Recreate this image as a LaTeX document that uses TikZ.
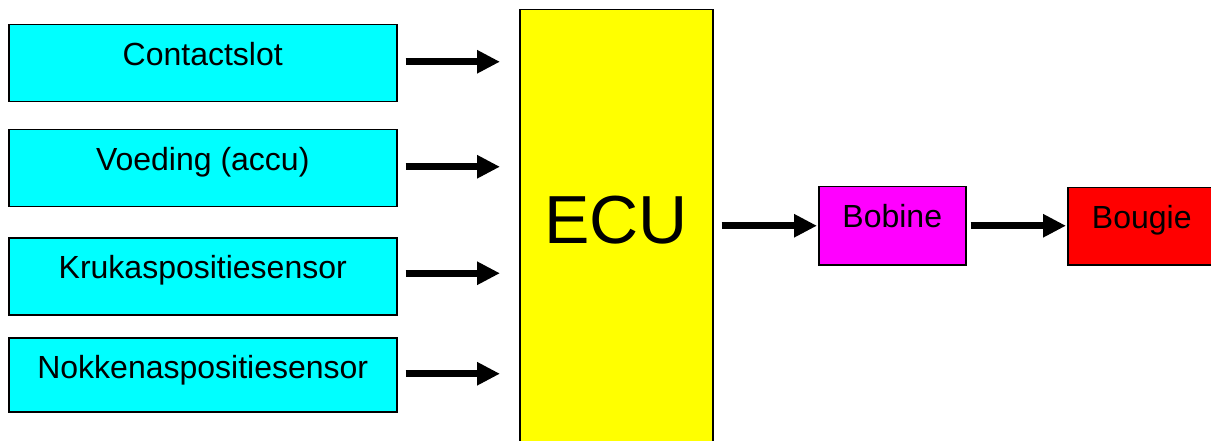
\documentclass[tikz,border=0pt]{standalone}
\usepackage{fontspec}
\setmainfont{Liberation Sans}
\usetikzlibrary{arrows.meta}

\definecolor{inputfill}{RGB}{0,255,255}
\definecolor{ecufill}{RGB}{255,255,0}
\definecolor{coilfill}{RGB}{255,0,255}
\definecolor{plugfill}{RGB}{255,0,0}

\tikzset{
  block/.style={draw=black, line width=1.5pt, inner sep=0pt, anchor=north west,
    font=\fontsize{32}{38}\selectfont, text height=41pt},
  inbox/.style={block, fill=inputfill, minimum width=388pt},
  flow/.style={line width=7pt, -{Triangle[length=23pt,width=22pt]}},
}

\begin{document}
\begin{tikzpicture}[x=1pt, y=-1pt]
  \clip (0,0) rectangle (1211,441);
  \fill[white] (0,0) rectangle (1211,441);

  % input sensors and switches
  \node[inbox, text depth=36pt] (c1) at (8,24)  {Contactslot};
  \node[inbox, text depth=36pt] (c2) at (8,129) {Voeding (accu)};
  \node[inbox, text depth=36pt] (c3) at (8,237) {Krukaspositiesensor};
  \node[inbox, text depth=33pt] (c4) at (8,337) {Nokkenaspositiesensor};

  % control unit, running off the bottom edge
  \node[block, fill=ecufill, minimum width=193pt, text height=234pt, text depth=230pt,
        font=\fontsize{68}{80}\selectfont] (ecu) at (519,9) {ECU};

  % ignition chain
  \node[block, fill=coilfill, minimum width=147pt, text depth=37pt] (bob) at (818,186) {Bobine};
  \node[block, fill=plugfill, minimum width=148pt, text depth=36pt] (bou) at (1067,187) {Bougie};

  % signal arrows
  \draw[flow, shorten <=8pt, shorten >=19pt] ([yshift=1.5pt]c1.east) -- ([yshift=1.5pt]c1.east -| ecu.west);
  \draw[flow, shorten <=8pt, shorten >=19pt] ([yshift=1.5pt]c2.east) -- ([yshift=1.5pt]c2.east -| ecu.west);
  \draw[flow, shorten <=8pt, shorten >=19pt] ([yshift=3pt]c3.east) -- ([yshift=3pt]c3.east -| ecu.west);
  \draw[flow, shorten <=8pt, shorten >=19pt] ([yshift=1pt]c4.east) -- ([yshift=1pt]c4.east -| ecu.west);

  \draw[flow, shorten <=8pt, shorten >=1pt] (bob.west -| ecu.east) -- (bob.west);
  \draw[flow, shorten <=4pt, shorten >=1pt] (bob.east) -- (bob.east -| bou.west);
\end{tikzpicture}
\end{document}
